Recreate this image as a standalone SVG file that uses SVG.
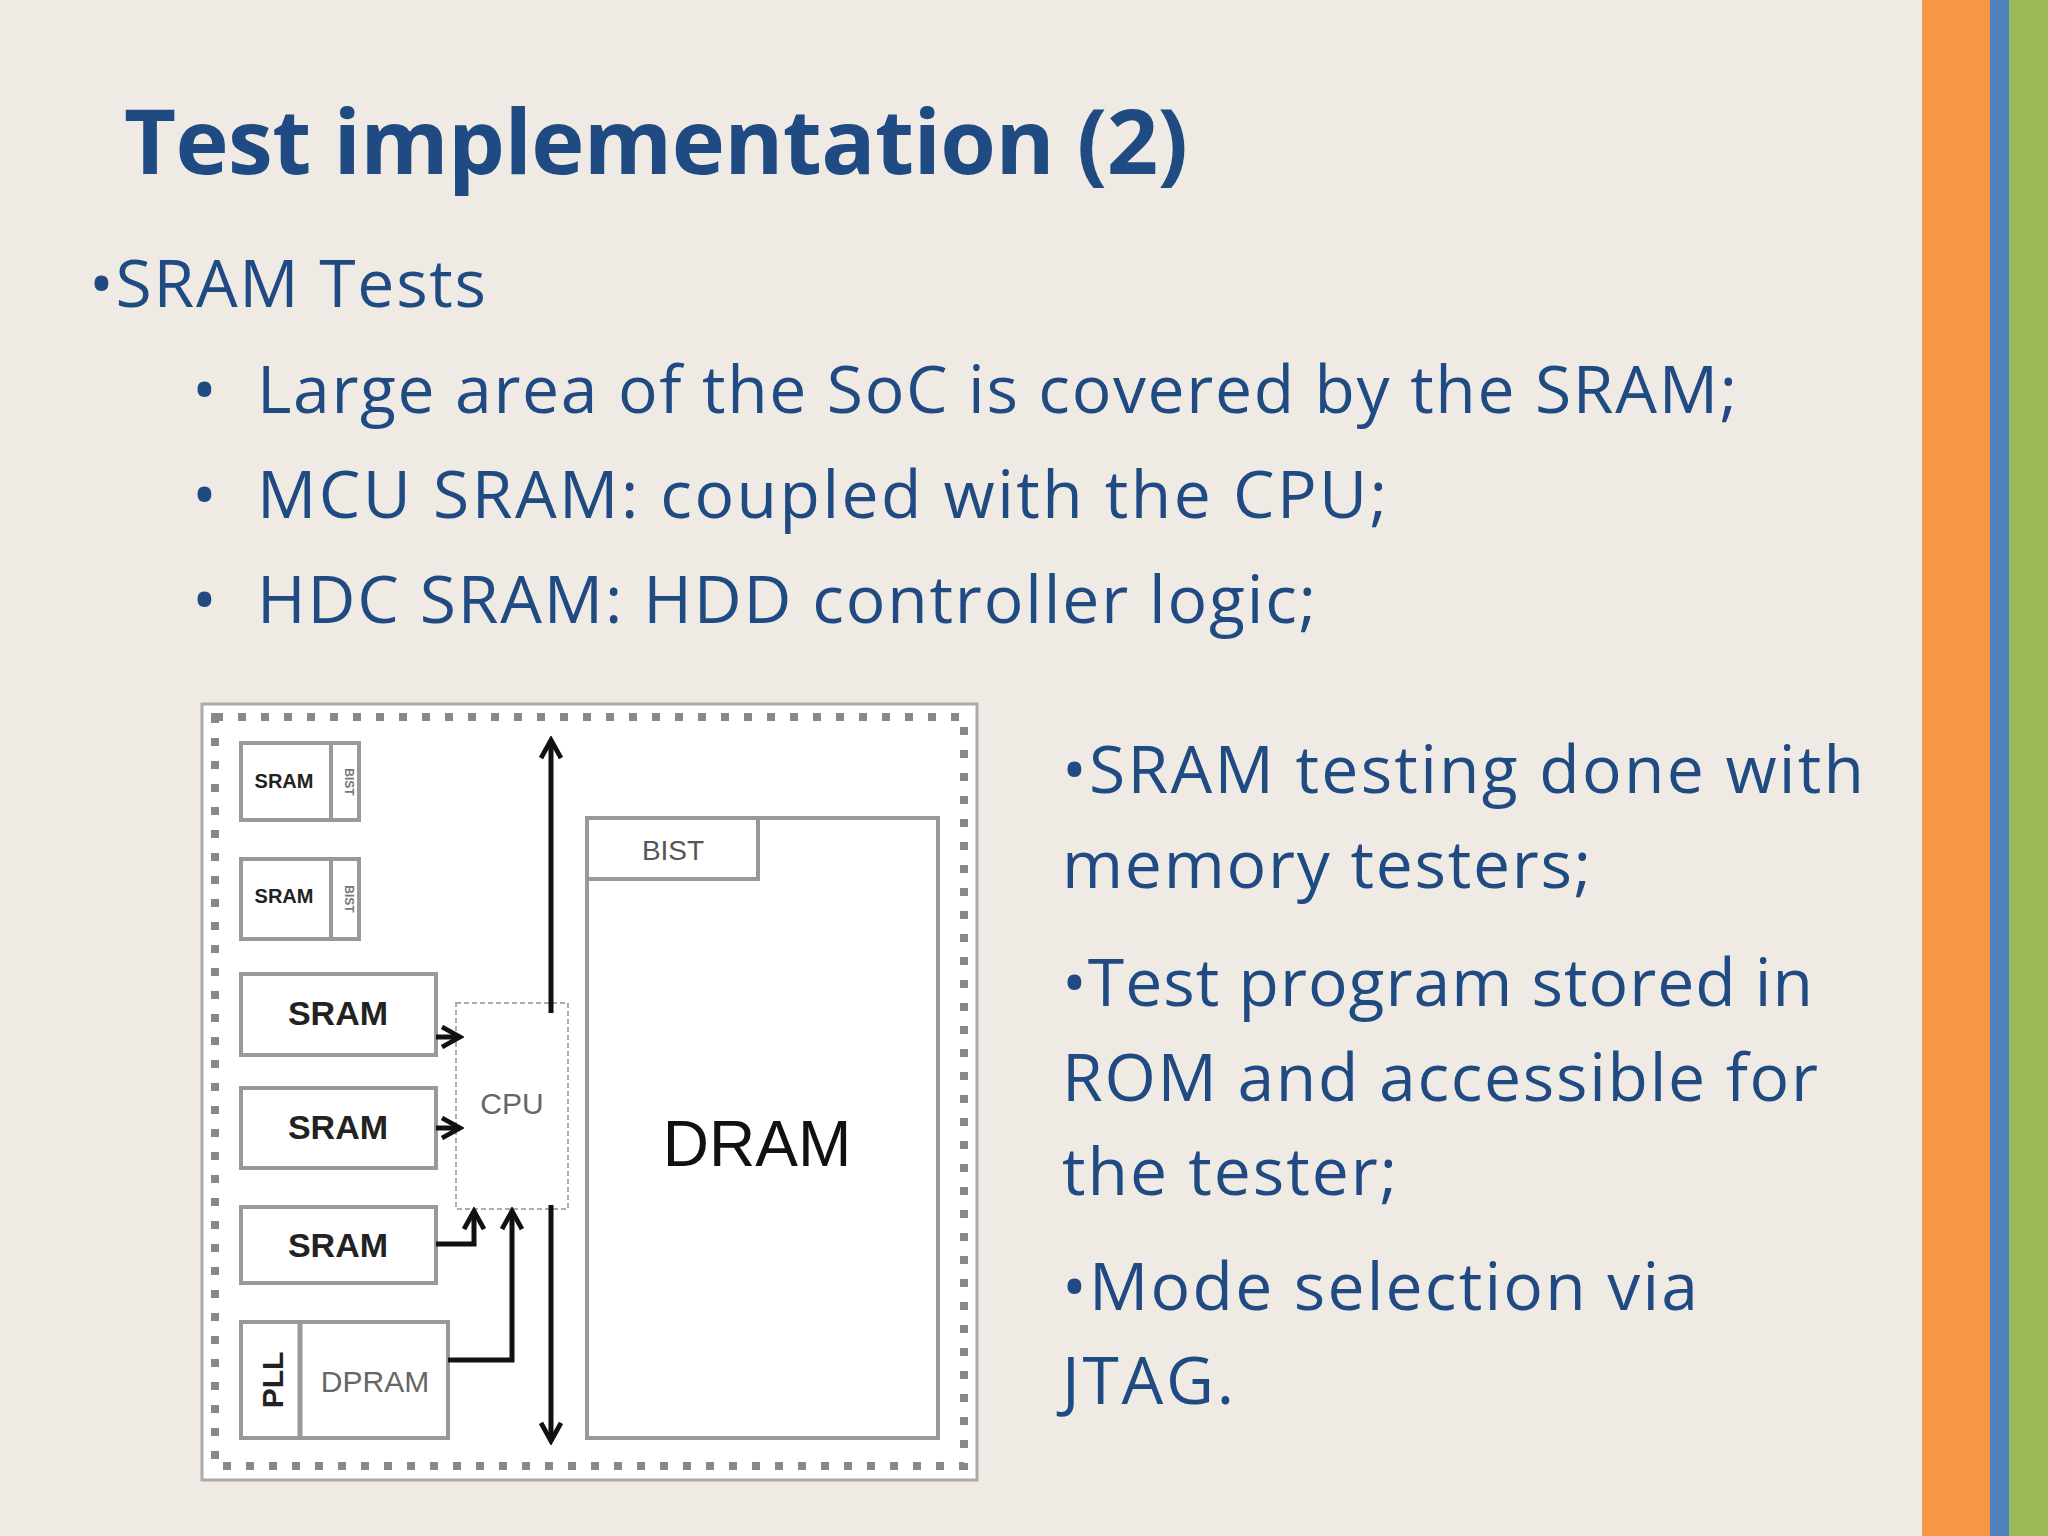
<svg xmlns="http://www.w3.org/2000/svg" width="2048" height="1536" viewBox="0 0 2048 1536">
<defs>
<style>
.t{font-family:"Open Sans","Noto Sans",sans-serif;fill:#1F4A82}
.box{fill:#fff;stroke:#999;stroke-width:4}
.lab{font-family:"Liberation Sans",Arial,sans-serif;font-weight:bold;fill:#222;text-anchor:middle}
.n{font-weight:normal}
.w{stroke:#111;stroke-width:5;fill:none}
</style>
<marker id="ah2" viewBox="0 0 12 12" refX="10" refY="6" markerWidth="24" markerHeight="24" orient="auto-start-reverse" markerUnits="userSpaceOnUse">
<path d="M1,1 L10,6 L1,11" fill="none" stroke="#111" stroke-width="2.4"/>
</marker>
</defs>
<rect width="2048" height="1536" fill="#EFEBE4"/>
<rect x="1922" y="0" width="68" height="1536" fill="#F79646"/>
<rect x="1990" y="0" width="19" height="1536" fill="#4F81BD"/>
<rect x="2009" y="0" width="39" height="1536" fill="#9BBB59"/>
<text class="t" x="124" y="174" font-size="90" font-weight="bold" textLength="1064">Test implementation (2)</text>
<text class="t" x="89" y="307" font-size="66" textLength="397">•SRAM Tests</text>
<g class="t" font-size="66">
<text x="192" y="413">•</text><text x="257" y="413" textLength="1480">Large area of the SoC is covered by the SRAM;</text>
<text x="192" y="518">•</text><text x="257" y="518" textLength="1130">MCU SRAM: coupled with the CPU;</text>
<text x="192" y="623">•</text><text x="257" y="623" textLength="1059">HDC SRAM: HDD controller logic;</text>
</g>
<g class="t" font-size="66">
<text x="1062" y="793" textLength="802">•SRAM testing done with</text>
<text x="1062" y="888" textLength="529">memory testers;</text>
<text x="1062" y="1006" textLength="751">•Test program stored in</text>
<text x="1062" y="1101" textLength="756">ROM and accessible for</text>
<text x="1062" y="1195" textLength="335">the tester;</text>
<text x="1062" y="1310" textLength="636">•Mode selection via</text>
<text x="1062" y="1404" textLength="172">JTAG.</text>
</g>
<g id="chip">
<rect x="202" y="704" width="775" height="776" fill="#fff" stroke="#aaa" stroke-width="3"/>
<rect x="215" y="717" width="749" height="749" fill="none" stroke="#888" stroke-width="8" stroke-dasharray="8,15"/>
</g>
<g id="sram1"><rect class="box" x="241" y="743" width="118" height="77"/><line x1="331" y1="743" x2="331" y2="820" stroke="#999" stroke-width="4"/><text class="lab" x="284" y="788" font-size="20">SRAM</text><text class="lab" x="345" y="782" font-size="12" style="fill:#777" transform="rotate(90 345 782)">BIST</text></g>
<g id="sram2"><rect class="box" x="241" y="859" width="118" height="80"/><line x1="331" y1="859" x2="331" y2="939" stroke="#999" stroke-width="4"/><text class="lab" x="284" y="903" font-size="20">SRAM</text><text class="lab" x="345" y="899" font-size="12" style="fill:#777" transform="rotate(90 345 899)">BIST</text></g>
<g id="sram3"><rect class="box" x="241" y="974" width="195" height="81"/><text class="lab" x="338" y="1025" font-size="34">SRAM</text></g>
<g id="sram4"><rect class="box" x="241" y="1088" width="195" height="80"/><text class="lab" x="338" y="1139" font-size="34">SRAM</text></g>
<g id="sram5"><rect class="box" x="241" y="1207" width="195" height="76"/><text class="lab" x="338" y="1257" font-size="34">SRAM</text></g>
<g id="dpram"><rect class="box" x="241" y="1322" width="207" height="116"/><line x1="300" y1="1322" x2="300" y2="1438" stroke="#999" stroke-width="5"/><text class="lab n" x="375" y="1392" font-size="30" style="fill:#666">DPRAM</text><text class="lab" x="283" y="1380" font-size="30" transform="rotate(-90 283 1380)">PLL</text></g>
<g id="cpu"><rect x="456" y="1003" width="112" height="206" fill="#fff" stroke="#aaa" stroke-width="2" stroke-dasharray="5,3"/><text class="lab n" x="512" y="1114" font-size="30" style="fill:#666">CPU</text></g>
<g id="dram"><rect class="box" x="587" y="818" width="351" height="620"/><rect class="box" x="587" y="818" width="171" height="61"/><text class="lab n" x="673" y="860" font-size="28" style="fill:#555">BIST</text><text class="lab n" x="757" y="1166" font-size="64" style="fill:#111">DRAM</text></g>
<g id="connectors">
<line class="w" x1="551" y1="1013" x2="551" y2="740" marker-end="url(#ah2)"/>
<line class="w" x1="551" y1="1205" x2="551" y2="1441" marker-end="url(#ah2)"/>
<line class="w" x1="436" y1="1037" x2="460" y2="1037" marker-end="url(#ah2)"/>
<line class="w" x1="436" y1="1128" x2="460" y2="1128" marker-end="url(#ah2)"/>
<polyline class="w" points="436,1244 474,1244 474,1211" marker-end="url(#ah2)"/>
<polyline class="w" points="448,1360 512,1360 512,1211" marker-end="url(#ah2)"/>
</g>
</svg>
